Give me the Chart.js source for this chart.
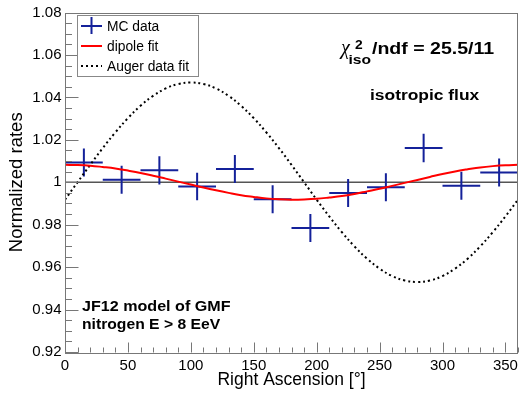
<!DOCTYPE html>
<html><head><meta charset="utf-8">
<script src="https://cdn.jsdelivr.net/npm/chart.js@4.4.0/dist/chart.umd.min.js"></script>
<style>html,body{margin:0;padding:0;background:#fff;}</style>
</head><body>
<canvas id="c" width="519" height="394"></canvas>
<script>
// ---- data ----
const binCenters   = [15, 45, 75, 105, 135, 165, 195, 225, 255, 285, 315, 345];
const binHalfWidth = [15, 15, 15, 15, 15, 15, 15, 15, 15, 15, 15, 15];
const mcRates      = [1.0093, 1.0012, 1.0056, 0.9980, 1.0062, 0.9920, 0.9784, 0.9949, 0.9976, 1.0161, 0.9983, 1.0046];
const mcErrors     = [0.0066, 0.0066, 0.0067, 0.0065, 0.0066, 0.0066, 0.0066, 0.0066, 0.0066, 0.0067, 0.0066, 0.0066];

const curveRA   = [0,10,20,30,40,50,60,70,80,90,100,110,120,130,140,150,160,170,180,190,200,210,220,230,240,250,260,270,280,290,300,310,320,330,340,350,360];
const dipoleFit = [1.0082,1.0081,1.0078,1.0072,1.0065,1.0055,1.0044,1.0031,1.0017,1.0003,0.9989,0.9975,0.9962,0.9950,0.9939,0.9931,0.9924,0.9920,0.9918,0.9919,0.9922,0.9928,0.9935,0.9945,0.9957,0.9969,0.9983,0.9997,1.0011,1.0025,1.0039,1.0051,1.0061,1.0070,1.0076,1.0080,1.0082];
const augerFit  = [0.9918,1.0000,1.0082,1.0161,1.0235,1.0302,1.0360,1.0407,1.0442,1.0463,1.0470,1.0463,1.0442,1.0407,1.0360,1.0302,1.0235,1.0161,1.0082,1.0000,0.9918,0.9839,0.9765,0.9698,0.9640,0.9593,0.9558,0.9537,0.9530,0.9537,0.9558,0.9593,0.9640,0.9698,0.9765,0.9839,0.9918];

const xTickValues = [0, 50, 100, 150, 200, 250, 300, 350];
const yTickValues = [0.92, 0.94, 0.96, 0.98, 1.00, 1.02, 1.04, 1.06, 1.08];

const seriesNames = ['MC data', 'dipole fit', 'Auger data fit'];
const annotChi = ['\u03C7', '2', 'iso', '/ndf = 25.5/11'];
const annotIso = 'isotropic flux';
const annotModel = ['JF12 model of GMF', 'nitrogen E > 8 EeV'];
// -----------------------------------------------

const SANS = '"Liberation Sans", Arial, Helvetica, sans-serif';
const BLUE = '#14219a';

function txt(ctx, s, x, y, font, sx, color, align) {
  ctx.save();
  ctx.font = font; ctx.fillStyle = color || '#000';
  ctx.textBaseline = 'alphabetic'; ctx.textAlign = align || 'left';
  ctx.translate(x, y); ctx.scale(sx || 1, 1);
  ctx.fillText(s, 0, 0);
  ctx.restore();
}

const rootStyle = {
  id: 'rootStyle',
  beforeDatasetsDraw(chart) {
    const {ctx, scales: {x, y}} = chart;
    ctx.save();
    ctx.strokeStyle = '#555'; ctx.lineWidth = 1.5;
    const p1 = y.getPixelForValue(1);
    ctx.beginPath(); ctx.moveTo(x.getPixelForValue(0), p1); ctx.lineTo(x.getPixelForValue(360), p1); ctx.stroke();
    ctx.strokeStyle = BLUE; ctx.lineWidth = 2;
    for (let i = 0; i < binCenters.length; i++) {
      const cx = x.getPixelForValue(binCenters[i]);
      const cy = y.getPixelForValue(mcRates[i]);
      const xl = x.getPixelForValue(binCenters[i] - binHalfWidth[i]);
      const xr = x.getPixelForValue(binCenters[i] + binHalfWidth[i]);
      const yt = y.getPixelForValue(mcRates[i] + mcErrors[i]);
      const yb = y.getPixelForValue(mcRates[i] - mcErrors[i]);
      ctx.beginPath();
      ctx.moveTo(xl, cy); ctx.lineTo(xr, cy);
      ctx.moveTo(cx, yt); ctx.lineTo(cx, yb);
      ctx.stroke();
    }
    ctx.restore();
  },
  afterDraw(chart) {
    const {ctx, chartArea: a, scales: {x, y}} = chart;
    ctx.save();
    ctx.strokeStyle = '#777'; ctx.lineWidth = 1;
    ctx.strokeRect(Math.round(a.left) + 0.5, Math.round(a.top) + 0.5, Math.round(a.right - a.left) - 1, Math.round(a.bottom - a.top));
    const yb = Math.round(a.bottom) + 0.5;
    ctx.beginPath();
    for (let v = 0; v <= 360; v += 10) {
      const px = Math.round(x.getPixelForValue(v)) + 0.5;
      const len = (v % 50 === 0) ? 10 : 5;
      ctx.moveTo(px, yb); ctx.lineTo(px, yb - len);
    }
    const xl = Math.round(a.left) + 0.5;
    for (let k = 0; k <= 32; k++) {
      const v = 0.92 + k * 0.005;
      const py = Math.round(y.getPixelForValue(v)) + 0.5;
      const len = (k % 4 === 0) ? 13 : 6.5;
      ctx.moveTo(xl, py); ctx.lineTo(xl + len, py);
    }
    ctx.stroke();

    // legend
    ctx.fillStyle = '#fff'; ctx.fillRect(77, 15, 121, 61);
    ctx.strokeStyle = '#888'; ctx.lineWidth = 1; ctx.strokeRect(77.5, 15.5, 121, 61);
    ctx.strokeStyle = BLUE; ctx.lineWidth = 2;
    ctx.beginPath(); ctx.moveTo(81, 26); ctx.lineTo(102, 26); ctx.moveTo(91.5, 17); ctx.lineTo(91.5, 34); ctx.stroke();
    ctx.strokeStyle = '#ff0000';
    ctx.beginPath(); ctx.moveTo(81, 46); ctx.lineTo(102, 46); ctx.stroke();
    ctx.strokeStyle = '#000'; ctx.setLineDash([2, 3]);
    ctx.beginPath(); ctx.moveTo(81, 66); ctx.lineTo(102, 66); ctx.stroke();
    ctx.setLineDash([]);
    const lf = '13.8px ' + SANS;
    txt(ctx, seriesNames[0], 107, 31, lf, 1.0);
    txt(ctx, seriesNames[1], 107, 51, lf, 1.0);
    txt(ctx, seriesNames[2], 107, 71, lf, 1.0);

    // annotations
    txt(ctx, annotChi[0], 341, 54, 'italic 20px "Liberation Serif", serif', 1.0);
    txt(ctx, annotChi[1], 355, 48.5, 'bold 12px ' + SANS, 1.15);
    txt(ctx, annotChi[2], 348.5, 64, 'bold 13px ' + SANS, 1.2);
    txt(ctx, annotChi[3], 372, 53.5, 'bold 16.3px ' + SANS, 1.2);
    txt(ctx, annotIso, 370, 99.5, 'bold 14.5px ' + SANS, 1.2);
    txt(ctx, annotModel[0], 82, 310.5, 'bold 14px ' + SANS, 1.15);
    txt(ctx, annotModel[1], 82, 328.5, 'bold 14px ' + SANS, 1.12);
    ctx.restore();
  }
};

new Chart(document.getElementById('c'), {
  type: 'line',
  data: {
    datasets: [
      { label: seriesNames[0], data: binCenters.map((v, i) => ({x: v, y: mcRates[i]})),
        showLine: false, pointRadius: 0, borderColor: BLUE, backgroundColor: BLUE },
      { label: seriesNames[1], data: curveRA.map((v, i) => ({x: v, y: dipoleFit[i]})),
        borderColor: '#ff0000', borderWidth: 2, pointRadius: 0, tension: 0.4, fill: false },
      { label: seriesNames[2], data: curveRA.map((v, i) => ({x: v, y: augerFit[i]})),
        borderColor: '#000', borderWidth: 2, borderDash: [2, 3], pointRadius: 0, tension: 0.4, fill: false }
    ]
  },
  options: {
    responsive: false, animation: false, devicePixelRatio: 1,
    layout: {padding: {top: 12.5, right: 1, left: 0, bottom: 0}},
    plugins: {legend: {display: false}, tooltip: {enabled: false}, title: {display: false}},
    scales: {
      x: {
        type: 'linear', min: 0, max: 360,
        afterBuildTicks: s => { s.ticks = xTickValues.map(v => ({value: v})); },
        afterFit: s => { s.height = 42; s.paddingLeft = 0; s.paddingRight = 0; },
        grid: {display: false, drawTicks: false}, border: {display: false},
        ticks: {padding: 5, color: '#000', font: {family: SANS, size: 15}, maxRotation: 0, autoSkip: false,
                callback: v => String(v)},
        title: {display: true, text: 'Right Ascension [\u00B0]', color: '#000',
                font: {family: SANS, size: 17.5}, padding: {top: 0, bottom: 3}}
      },
      y: {
        type: 'linear', min: 0.92, max: 1.08,
        afterBuildTicks: s => { s.ticks = yTickValues.map(v => ({value: v})); },
        afterFit: s => { s.width = 65; s.paddingTop = 0; s.paddingBottom = 0; },
        grid: {display: false, drawTicks: false}, border: {display: false},
        ticks: {padding: 3.5, color: '#000', font: {family: SANS, size: 15}, autoSkip: false,
                callback: v => String(parseFloat(Number(v).toFixed(2)))},
        title: {display: true, text: 'Normalized rates', color: '#000',
                font: {family: SANS, size: 18.5}, padding: {top: 6, bottom: 0}}
      }
    }
  },
  plugins: [rootStyle]
});
</script>
</body></html>
